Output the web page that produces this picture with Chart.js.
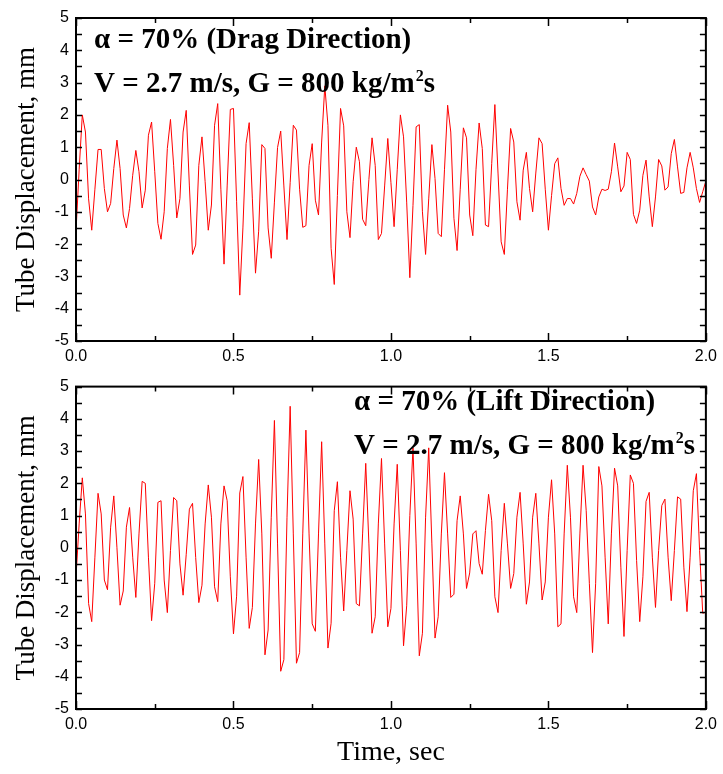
<!DOCTYPE html>
<html><head><meta charset="utf-8">
<script src="https://cdn.jsdelivr.net/npm/chart.js@4.4.0/dist/chart.umd.min.js"></script>
<style>
html,body{margin:0;padding:0;background:#fff;width:723px;height:774px;overflow:hidden;}
canvas{position:absolute;left:0;}
#c1{top:0;} #c2{top:370px;}
</style></head><body>
<canvas id="c1" width="723" height="370"></canvas>
<canvas id="c2" width="723" height="404"></canvas>
<script>
// ---- data ----
const sampleStep = 0.01; // seconds between samples
const dragDisplacement = [
-1.6,0.3,2.0,1.47,-0.6,-1.57,-0.3,0.93,0.93,-0.28,
-1.0,-0.74,0.34,1.22,0.34,-1.1,-1.5,-0.9,0.13,0.9,
0.24,-0.88,-0.33,1.37,1.78,0.24,-1.36,-1.85,-1.0,0.96,
1.86,0.44,-1.19,-0.59,1.47,2.14,-0.2,-2.32,-2.03,0.44,
1.32,-0.07,-1.57,-0.79,1.68,2.35,-0.3,-2.62,-0.2,2.17,
2.2,-0.69,-3.58,-1.5,1.11,1.76,-0.6,-2.9,-1.6,1.08,
0.96,-1.5,-2.44,-0.7,0.99,1.5,-0.2,-1.86,-0.1,1.68,
1.53,-0.3,-1.48,-1.43,0.44,1.11,-0.64,-1.1,1.16,2.9,
1.68,-2.13,-3.25,-0.5,2.2,1.66,-1.0,-1.8,-0.07,1.0,
0.55,-1.23,-1.43,0.0,1.29,0.44,-1.86,-1.67,-0.2,1.27,
-0.1,-1.46,0.3,2.0,1.32,-0.7,-3.04,-0.8,1.63,1.7,
-1.0,-2.32,-0.6,1.08,0.03,-1.67,-1.77,0.3,2.3,1.47,
-1.2,-2.2,-0.3,1.6,1.29,-1.1,-1.74,0.3,1.75,0.96,
-1.41,-1.46,0.5,2.32,0.2,-1.93,-2.32,-0.3,1.58,1.16,
-0.69,-1.26,0.29,0.84,-0.28,-1.0,0.2,1.29,1.11,-0.3,
-1.57,-0.5,0.49,0.67,-0.28,-0.8,-0.59,-0.59,-0.76,-0.43,
0.1,0.36,0.15,-0.05,-0.85,-1.1,-0.54,-0.3,-0.34,-0.3,
0.24,1.13,0.39,-0.38,-0.2,0.84,0.62,-1.08,-1.36,-0.95,
0.13,0.6,-0.54,-1.46,-0.54,0.62,0.42,-0.33,-0.23,0.8,
1.24,0.39,-0.43,-0.4,0.36,0.84,0.36,-0.28,-0.71,-0.38,
-0.05];
const liftDisplacement = [
-0.9,0.74,2.17,1.05,-1.73,-2.29,-0.29,1.69,1.05,-1.0,
-1.3,0.64,1.61,0.0,-1.78,-1.34,0.64,1.25,-0.29,-1.54,
0.43,2.06,2.0,-0.29,-2.26,-1.1,1.41,1.46,-1.0,-2.01,
-0.08,1.56,1.46,-0.5,-1.47,-0.2,1.2,1.38,-0.3,-1.7,
-1.16,0.74,1.95,0.95,-1.21,-1.67,0.74,1.92,1.46,-0.9,
-2.67,-1.5,1.7,2.21,-0.29,-2.5,-1.85,0.74,2.74,0.43,
-3.32,-2.55,0.95,3.95,0.12,-3.83,-3.47,0.95,4.39,0.43,
-3.58,-3.25,0.43,3.65,0.43,-2.36,-2.59,0.43,3.29,0.12,
-3.11,-2.34,1.15,2.05,-0.29,-1.96,-0.08,1.77,0.89,-1.73,
-1.8,0.43,2.62,0.12,-2.65,-2.14,0.74,2.77,0.12,-2.45,
-1.88,0.74,2.59,-0.08,-3.04,-1.8,1.0,3.1,0.12,-3.35,
-2.65,0.95,3.1,0.12,-2.8,-2.14,0.43,2.33,0.43,-1.54,
-1.44,0.84,1.61,0.43,-1.26,-0.78,0.43,0.53,-0.49,-0.82,
0.53,1.66,0.84,-1.52,-2.01,-0.08,1.38,0.12,-1.26,-0.8,
0.95,1.72,0.12,-1.75,-1.06,0.95,1.69,0.12,-1.62,-1.06,
0.95,2.11,0.43,-2.45,-2.36,0.43,2.56,0.95,-1.52,-2.01,
0.43,2.56,1.15,-1.1,-3.25,-1.1,2.52,1.92,-0.29,-2.36,
0.43,2.47,1.92,-0.6,-2.75,-0.08,2.26,2.0,-0.39,-2.29,
-0.9,1.44,1.72,-0.29,-1.85,-0.08,1.31,1.51,-0.29,-1.64,
-0.08,1.58,1.51,-0.6,-1.98,-0.29,1.77,2.3,-0.08,-2.03,
-2.0];
const xMajorTicks = [0.0, 0.5, 1.0, 1.5, 2.0];
const xMinorTicks = [0.25, 0.75, 1.25, 1.75];
const yTicks = [5, 4, 3, 2, 1, 0, -1, -2, -3, -4, -5];
const yMinorTicks = [4.5, 3.5, 2.5, 1.5, 0.5, -0.5, -1.5, -2.5, -3.5, -4.5];
const yTitle = "Tube Displacement, mm";
const xTitle = "Time, sec";
const dragLabel1 = "\u03b1 = 70% (Drag Direction)";
const liftLabel1 = "\u03b1 = 70% (Lift Direction)";
const condLabel = ["V = 2.7 m/s, G = 800 kg/m", "2", "s"];

// ---- drawing helpers ----
const SERIF = '"Liberation Serif", "Times New Roman", serif';
const SANS = '"Liberation Sans", Arial, sans-serif';

function decorPlugin(cfg) {
  return {
    id: 'decor',
    afterDraw(chart) {
      const ctx = chart.ctx, a = chart.chartArea;
      const xs = chart.scales.x, ys = chart.scales.y;
      ctx.save();
      ctx.strokeStyle = '#000';
      ctx.lineWidth = 2;
      ctx.strokeRect(a.left, a.top, a.right - a.left, a.bottom - a.top);
      ctx.lineWidth = 1.5;
      ctx.beginPath();
      const xt = (v, len) => {
        const px = Math.round(xs.getPixelForValue(v)) + 0.5;
        ctx.moveTo(px, a.bottom); ctx.lineTo(px, a.bottom - len);
        ctx.moveTo(px, a.top); ctx.lineTo(px, a.top + len);
      };
      xMajorTicks.forEach(v => xt(v, 8));
      xMinorTicks.forEach(v => xt(v, 5));
      const yt = (v, len) => {
        const py = Math.round(ys.getPixelForValue(v)) + 0.5;
        ctx.moveTo(a.left, py); ctx.lineTo(a.left + len, py);
        ctx.moveTo(a.right, py); ctx.lineTo(a.right - len, py);
      };
      yTicks.forEach(v => yt(v, 6));
      yMinorTicks.forEach(v => yt(v, 6));
      ctx.stroke();

      // y title
      ctx.fillStyle = '#000';
      ctx.font = '27px ' + SERIF;
      ctx.textAlign = 'center';
      ctx.textBaseline = 'alphabetic';
      ctx.save();
      ctx.translate(34, (a.top + a.bottom) / 2);
      ctx.rotate(-Math.PI / 2);
      ctx.fillText(yTitle, 0, 0);
      ctx.restore();

      if (cfg.xTitle) {
        ctx.font = '28px ' + SERIF;
        ctx.textAlign = 'center';
        ctx.fillText(cfg.xTitle, (a.left + a.right) / 2, cfg.xTitleY);
      }

      // annotation text
      ctx.textAlign = 'left';
      ctx.font = 'bold 29px ' + SERIF;
      ctx.fillText(cfg.line1, cfg.tx, cfg.ty1);
      let x = cfg.tx;
      ctx.fillText(condLabel[0], x, cfg.ty2);
      x += ctx.measureText(condLabel[0]).width;
      ctx.font = 'bold 16px ' + SERIF;
      ctx.fillText(condLabel[1], x + 1, cfg.ty2 - 11);
      x += ctx.measureText(condLabel[1]).width + 1;
      ctx.font = 'bold 29px ' + SERIF;
      ctx.fillText(condLabel[2], x, cfg.ty2);
      ctx.restore();
    }
  };
}

function makeChart(id, values, pad, xAxisHeight, cfg) {
  const pts = values.map((v, i) => ({ x: i * sampleStep, y: v }));
  return new Chart(document.getElementById(id), {
    type: 'line',
    data: { datasets: [{ data: pts, borderColor: '#ff0000', borderWidth: 1, pointRadius: 0, tension: 0, fill: false }] },
    options: {
      responsive: false, animation: false, devicePixelRatio: 1,
      layout: { padding: pad },
      plugins: { legend: { display: false }, tooltip: { enabled: false } },
      scales: {
        x: {
          type: 'linear', min: 0, max: 2,
          afterFit(s) { s.height = xAxisHeight; },
          afterBuildTicks(s) { s.ticks = xMajorTicks.map(v => ({ value: v })); },
          grid: { display: false, drawTicks: false }, border: { display: false },
          ticks: { color: '#000', font: { family: SANS, size: 16 }, padding: 6, maxRotation: 0, autoSkip: false,
                   callback: v => Number(v).toFixed(1) }
        },
        y: {
          min: -5, max: 5,
          afterFit(s) { s.width = 76; },
          afterBuildTicks(s) { s.ticks = yTicks.map(v => ({ value: v })); },
          grid: { display: false, drawTicks: false }, border: { display: false },
          ticks: { color: '#000', font: { family: SANS, size: 16 }, padding: 7, callback: v => String(v) }
        }
      }
    },
    plugins: [decorPlugin(cfg)]
  });
}

makeChart('c1', dragDisplacement, { top: 18, left: 0, right: 14, bottom: 0 }, 29,
  { line1: dragLabel1, tx: 94, ty1: 48, ty2: 92 });
makeChart('c2', liftDisplacement, { top: 15, left: 0, right: 14, bottom: 0 }, 65,
  { line1: liftLabel1, tx: 354, ty1: 40, ty2: 84, xTitle: xTitle, xTitleY: 390 });
</script>
</body></html>
